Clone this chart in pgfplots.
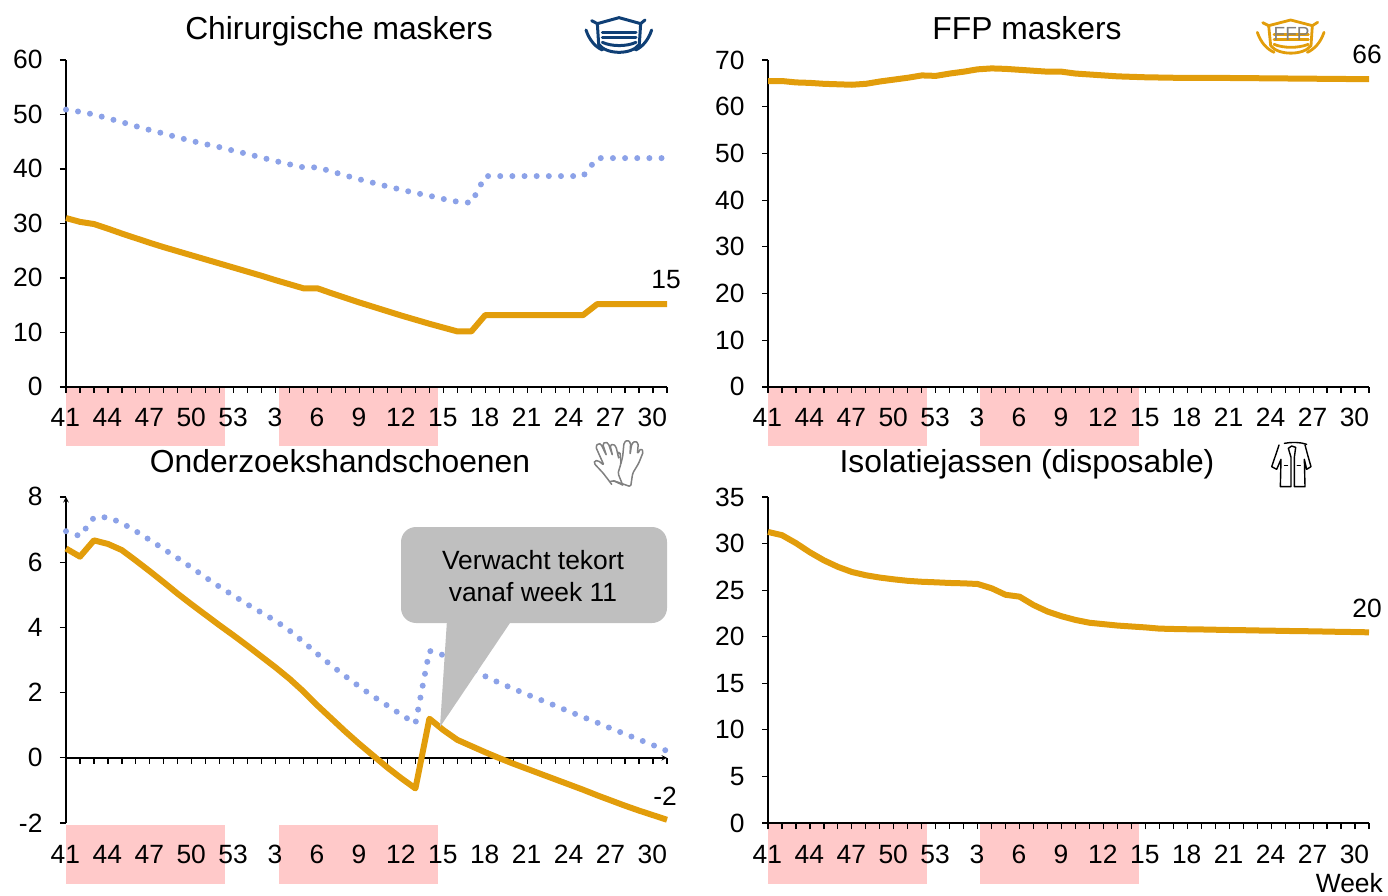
\documentclass[border=0pt]{standalone}
\usepackage{fontspec}
\setmainfont{Liberation Sans}
\usepackage{pgfplots}
\usepackage{pgfplotstable}
\pgfplotsset{compat=1.18}
\definecolor{lineorange}{HTML}{E29D0B}
\definecolor{dotblue}{HTML}{8CA2E8}
\definecolor{bandpink}{HTML}{FFC9C9}
\definecolor{navy}{HTML}{0F3F75}
\definecolor{bubble}{HTML}{BFBFBF}
\definecolor{icongrey}{HTML}{808080}
\newcommand\tickfont{\fontsize{26.4}{30}\selectfont}
\newcommand\titlefont{\fontsize{31.8}{36}\selectfont}

\pgfplotstableread{
x solid dotted
0 31 50.9
1 30.3 50.5
2 29.9 50
3 29.05 49.3
4 28.15 48.6
5 27.3 47.85
6 26.45 47.15
7 25.65 46.5
8 24.9 45.8
9 24.15 45.15
10 23.4 44.55
11 22.65 44
12 21.9 43.35
13 21.15 42.75
14 20.4 42.1
15 19.6 41.45
16 18.85 40.85
17 18.1 40.3
18 18.1 40.3
19 17.2 39.55
20 16.35 38.8
21 15.5 38.1
22 14.7 37.45
23 13.9 36.8
24 13.1 36.2
25 12.35 35.6
26 11.6 35.1
27 10.9 34.5
28 10.2 34
29 10.2 33.8
30 13.2 38.7
31 13.2 38.7
32 13.2 38.7
33 13.2 38.7
34 13.2 38.7
35 13.2 38.7
36 13.2 38.7
37 13.2 38.7
38 15.2 42
39 15.2 42
40 15.2 42
41 15.2 42
42 15.2 42
43 15.2 42
}\tablemask
\pgfplotstableread{
x solid
0 65.5
1 65.5
2 65.2
3 65.1
4 64.9
5 64.8
6 64.7
7 64.9
8 65.4
9 65.8
10 66.2
11 66.7
12 66.6
13 67.1
14 67.5
15 68
16 68.2
17 68.1
18 67.9
19 67.7
20 67.5
21 67.5
22 67.1
23 66.9
24 66.7
25 66.5
26 66.4
27 66.3
28 66.25
29 66.2
30 66.2
31 66.2
32 66.15
33 66.15
34 66.1
35 66.1
36 66.05
37 66.05
38 66
39 66
40 65.95
41 65.95
42 65.9
43 65.9
}\tableffp
\pgfplotstableread{
x solid dotted
0 6.42 6.95
1 6.17 6.8
2 6.67 7.37
3 6.56 7.38
4 6.37 7.2
5 6.05 6.95
6 5.72 6.68
7 5.38 6.4
8 5.03 6.12
9 4.7 5.83
10 4.38 5.53
11 4.06 5.24
12 3.75 4.97
13 3.43 4.7
14 3.1 4.45
15 2.77 4.2
16 2.42 3.9
17 2.03 3.55
18 1.6 3.18
19 1.2 2.83
20 0.8 2.5
21 0.42 2.18
22 0.06 1.88
23 -0.3 1.6
24 -0.63 1.32
25 -0.94 1.05
26 1.2 3.28
27 0.85 3.15
28 0.55 2.95
29 0.36 2.72
30 0.17 2.5
31 -0.01 2.3
32 -0.18 2.12
33 -0.34 1.94
34 -0.5 1.77
35 -0.66 1.6
36 -0.82 1.42
37 -0.98 1.25
38 -1.15 1.08
39 -1.31 0.9
40 -1.47 0.73
41 -1.62 0.56
42 -1.76 0.39
43 -1.9 0.21
}\tablegloves
\pgfplotstableread{
x solid
0 31.25
1 30.9
2 30.05
3 29.06
4 28.2
5 27.5
6 26.95
7 26.6
8 26.35
9 26.16
10 26
11 25.9
12 25.84
13 25.77
14 25.73
15 25.66
16 25.2
17 24.5
18 24.3
19 23.4
20 22.7
21 22.2
22 21.8
23 21.5
24 21.35
25 21.2
26 21.1
27 21
28 20.87
29 20.83
30 20.8
31 20.78
32 20.75
33 20.72
34 20.7
35 20.67
36 20.65
37 20.62
38 20.6
39 20.58
40 20.55
41 20.52
42 20.5
43 20.47
}\tablecoats

\pgfplotsset{
  panel/.style={
    scale only axis, width=601pt, height=327pt,
    xmin=0, xmax=43, clip=false,
    axis y line=left, axis x line=bottom,
    axis line style={-, black, line width=1.4pt},
    every tick/.style={black, line width=1.2pt},
    tick align=outside,
    major tick length=6pt, minor tick length=6pt,
    xtick={0,3,...,42},
    minor xtick={0,1,...,43},
    xticklabels={41,44,47,50,53,3,6,9,12,15,18,21,24,27,30},
    tick label style={font=\tickfont},
    x tick label style={anchor=base, xshift=-0.6pt},
    y tick label style={anchor=base east, yshift=-9pt, xshift=-14pt},
    /pgf/number format/assume math mode=true,
  },
  solidline/.style={lineorange, line width=6pt, line join=round, no markers},
  dotline/.style={dotblue, line width=6pt, line cap=round, dash pattern=on 0pt off 12.15pt, no markers},
}

\begin{document}
\begin{tikzpicture}
\path[use as bounding box] (0pt,0pt) rectangle (1388pt,895pt);

% pink week bands, in picture pixels
\begin{axis}[at={(0pt,0pt)}, anchor=south west, scale only axis, width=1388pt, height=895pt,
  xmin=0, xmax=1388, ymin=0, ymax=895, y dir=reverse, hide axis, clip=false]
\addplot[fill=bandpink, draw=none] coordinates {(66,387) (225,387) (225,446) (66,446)} -- cycle;
\addplot[fill=bandpink, draw=none] coordinates {(279,387) (438,387) (438,446) (279,446)} -- cycle;
\addplot[fill=bandpink, draw=none] coordinates {(768,387) (927,387) (927,446) (768,446)} -- cycle;
\addplot[fill=bandpink, draw=none] coordinates {(980,387) (1139,387) (1139,446) (980,446)} -- cycle;
\addplot[fill=bandpink, draw=none] coordinates {(66,825) (225,825) (225,884) (66,884)} -- cycle;
\addplot[fill=bandpink, draw=none] coordinates {(279,825) (438,825) (438,884) (279,884)} -- cycle;
\addplot[fill=bandpink, draw=none] coordinates {(768,824) (927,824) (927,884) (768,884)} -- cycle;
\addplot[fill=bandpink, draw=none] coordinates {(980,824) (1139,824) (1139,884) (980,884)} -- cycle;
\end{axis}

% Chirurgische maskers
\begin{axis}[panel, at={(66pt,508pt)}, anchor=south west, ymin=0, ymax=60, ytick={0,10,...,60},
  x tick label style={yshift=-34pt}]
\addplot[dotline] table[x=x,y=dotted] {\tablemask};
\addplot[solidline] table[x=x,y=solid] {\tablemask};
\end{axis}

% FFP maskers
\begin{axis}[panel, at={(768pt,508pt)}, anchor=south west, ymin=0, ymax=70, ytick={0,10,...,70},
  x tick label style={yshift=-34pt}]
\addplot[solidline] table[x=x,y=solid] {\tableffp};
\end{axis}

% Onderzoekshandschoenen
\begin{axis}[panel, at={(66pt,72pt)}, anchor=south west, height=326pt, ymin=-2, ymax=8,
  ytick={-2,0,...,8}, axis x line=middle, axis y line=left,
  hide obscured x ticks=false, hide obscured y ticks=false,
  tick align=outside,
  x tick label style={yshift=-100pt}]
\addplot[dotline] table[x=x,y=dotted] {\tablegloves};
\addplot[solidline] table[x=x,y=solid] {\tablegloves};
\end{axis}

% Isolatiejassen
\begin{axis}[panel, at={(768pt,72pt)}, anchor=south west, height=326pt, ymin=0, ymax=35, ytick={0,5,...,35},
  x tick label style={yshift=-34pt}]
\addplot[solidline] table[x=x,y=solid] {\tablecoats};
\end{axis}

% everything below is in picture pixels (y downwards)
\begin{scope}[x=1pt, y=-1pt, yshift=895pt]
\node[font=\titlefont, anchor=base] at (339,40) {Chirurgische maskers};
\node[font=\titlefont, anchor=base] at (1027,40) {FFP maskers};
\node[font=\titlefont, anchor=base] at (340,473) {Onderzoekshandschoenen};
\node[font=\titlefont, anchor=base] at (1027,473) {Isolatiejassen (disposable)};

\node[font=\tickfont] at (666,280) {15};
\node[font=\tickfont] at (1367,54) {66};
\node[font=\tickfont] at (665,796) {-2};
\node[font=\tickfont] at (1367,608) {20};
\node[font=\tickfont, anchor=east, inner sep=0pt] at (1383,883) {Week};

% callout
\fill[bubble, rounded corners=15pt] (401,527) rectangle (667,623);
\fill[bubble] (447,620) -- (440,727) -- (512,620) -- cycle;
\node[font=\tickfont] at (533,560) {Verwacht tekort};
\node[font=\tickfont] at (533,592) {vanaf week 11};

% surgical mask icon
\begin{scope}[shift={(570,5)}, x=0.3333pt, y=-0.3333pt, line cap=round, line join=round]
\draw[navy, line width=3pt] (65,47) -- (82,56) -- (147,38) -- (212,56) -- (225,45);
\draw[navy, line width=3pt] (82,56) -- (86,118) .. controls (110,150) and (185,150) .. (208,118) -- (212,56);
\draw[navy, line width=3pt] (48,75) .. controls (58,105) and (75,125) .. (97,135);
\draw[navy, line width=3pt] (245,75) .. controls (235,105) and (218,125) .. (197,135);
\draw[navy, line width=3pt] (97,82) -- (198,82);
\draw[navy, line width=3pt] (97,97) -- (198,97);
\draw[navy, line width=3pt] (97,112) .. controls (125,125) and (170,125) .. (198,112);
\end{scope}

% FFP mask icon
\begin{scope}[shift={(1240,5)}, x=0.3333pt, y=-0.3333pt, line cap=round, line join=round]
\draw[lineorange, line width=2.8pt] (68,53) -- (86,62) -- (152,45) -- (217,62) -- (233,52);
\draw[lineorange, line width=2.8pt] (86,62) -- (92,122) .. controls (115,152) and (190,152) .. (213,122) -- (217,62);
\draw[lineorange, line width=2.8pt] (52,82) .. controls (62,112) and (80,132) .. (102,142);
\draw[lineorange, line width=2.8pt] (252,82) .. controls (242,112) and (224,132) .. (202,142);
\draw[lineorange, line width=2.8pt] (102,88) -- (205,88);
\draw[lineorange, line width=2.8pt] (102,103) -- (205,103);
\draw[lineorange, line width=2.8pt] (102,118) .. controls (130,130) and (175,130) .. (205,118);
\node[font=\fontsize{19}{20}\selectfont, text=icongrey] at (155,88) {FFP};
\end{scope}

% gloves icon
\begin{scope}[shift={(580,430)}, x=0.3333pt, y=-0.3333pt, line cap=round, line join=round]
\draw[icongrey, line width=1.5pt, rounded corners=1.5pt]
  (95,163) -- (70,130) -- (42,100) -- (44,92) -- (55,92) -- (72,106) -- (47,50) -- (55,40) -- (63,42) -- (80,78)
  -- (68,42) -- (76,36) -- (85,40) -- (98,78) -- (90,46) -- (100,42) -- (108,50) -- (117,88) -- (112,68) -- (120,66) -- (123,100) -- (114,130) -- (128,165);
\draw[icongrey, line width=1.5pt, rounded corners=1.5pt]
  (90,155) -- (100,152) -- (152,170) -- (158,130) -- (176,100) -- (190,65) -- (183,55) -- (172,72) -- (175,40) -- (165,33) -- (155,42) -- (150,75)
  -- (152,38) -- (142,30) -- (132,38) -- (128,80) -- (123,100);
\draw[icongrey, line width=1.5pt] (100,152) -- (128,165);
\end{scope}

% coat icon
\begin{scope}[shift={(1255,430)}, x=0.3333pt, y=-0.3333pt, line cap=round, line join=round]
\draw[black, line width=1.4pt] (88,40) .. controls (110,36) and (135,36) .. (155,43);
\draw[black, line width=1.4pt] (72,45) -- (62,75) -- (50,110) -- (65,118) -- (78,88) -- (76,170) -- (108,170) -- (108,82) -- (100,55) -- (110,48) -- (122,52) -- (118,82) -- (118,170) -- (150,170) -- (148,88) -- (155,118) -- (168,110) -- (158,75) -- (150,45);
\draw[black, line width=1pt] (88,108) -- (98,108) (126,108) -- (136,108);
\end{scope}
\end{scope}
\end{tikzpicture}
\end{document}
